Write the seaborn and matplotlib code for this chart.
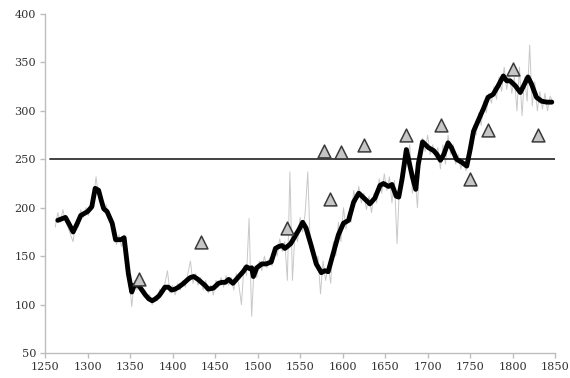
import matplotlib
matplotlib.use("Agg")
import matplotlib.pyplot as plt
import seaborn as sns
import pandas as pd

# Smoothed series (thick line)
smooth_years = [1265, 1268, 1274, 1279, 1283, 1288, 1292, 1296, 1300, 1305, 1309, 1313,
                1316, 1319, 1323, 1329, 1333, 1339, 1343, 1348, 1352, 1355, 1360, 1364,
                1368, 1372, 1376, 1380, 1384, 1388, 1391, 1395, 1399, 1403, 1407, 1413,
                1418, 1421, 1425, 1430, 1434, 1438, 1442, 1448, 1454, 1458, 1462, 1466,
                1471, 1477, 1483, 1487, 1491, 1493, 1495, 1499, 1505, 1510, 1516, 1521,
                1525, 1529, 1532, 1535, 1539, 1545, 1549, 1553, 1557, 1563, 1569, 1575,
                1579, 1583, 1589, 1595, 1601, 1607, 1613, 1619, 1625, 1632, 1638, 1644,
                1648, 1654, 1658, 1663, 1666, 1670, 1675, 1678, 1682, 1686, 1689, 1694,
                1701, 1707, 1711, 1715, 1719, 1724, 1728, 1734, 1740, 1746, 1750, 1754,
                1760, 1766, 1771, 1777, 1783, 1789, 1793, 1797, 1803, 1809, 1813, 1818,
                1822, 1828, 1834, 1840, 1846]
smooth_values = [187, 188, 190, 182, 175, 184, 192, 194, 196, 201, 220, 218,
                 208, 199, 196, 184, 167, 167, 169, 132, 113, 120, 120, 115,
                 110, 106, 104, 106, 109, 114, 118, 118, 115, 116, 118, 122,
                 126, 128, 129, 126, 123, 120, 116, 117, 122, 123, 123, 126,
                 122, 128, 134, 139, 137, 138, 129, 138, 142, 142, 144, 158,
                 160, 161, 158, 160, 163, 172, 178, 185, 179, 161, 142, 133,
                 135, 134, 153, 172, 184, 187, 206, 215, 210, 204, 210, 223,
                 225, 222, 224, 212, 211, 230, 260, 248, 232, 219, 245, 268,
                 262, 259, 255, 249, 255, 267, 262, 250, 247, 243, 260, 279,
                 291, 303, 314, 317, 326, 336, 331, 331, 326, 319, 326, 335,
                 328, 314, 310, 309, 309]

# Yearly observations (thin grey line), every third year
raw_years = list(range(1262, 1848, 3))
raw_values = [180, 195, 185, 198, 186, 180, 172, 165, 185, 180, 198, 190,
              200, 192, 205, 210, 232, 212, 215, 196, 203, 190, 188, 172,
              162, 172, 160, 172, 150, 125, 98, 125, 115, 125, 112, 115,
              105, 110, 100, 108, 104, 116, 110, 122, 135, 112, 120, 110,
              122, 115, 125, 118, 132, 145, 122, 132, 120, 128, 115, 125,
              112, 120, 110, 125, 118, 128, 118, 130, 120, 128, 115, 132,
              120, 100, 140, 130, 189, 88, 140, 128, 145, 135, 150, 138,
              148, 140, 160, 150, 168, 155, 165, 125, 237, 125, 175, 165,
              190, 175, 195, 237, 160, 155, 140, 150, 111, 145, 125, 140,
              122, 165, 150, 185, 165, 200, 178, 195, 185, 218, 205, 222,
              205, 215, 198, 212, 195, 215, 205, 230, 215, 235, 218, 232,
              205, 228, 163, 225, 240, 262, 250, 265, 215, 235, 200, 255,
              272, 258, 275, 255, 265, 252, 262, 240, 265, 245, 275, 255,
              265, 245, 255, 240, 250, 238, 250, 262, 285, 275, 298, 285,
              310, 298, 318, 308, 325, 312, 335, 320, 345, 322, 340, 318,
              335, 300, 345, 295, 335, 310, 368, 305, 330, 300, 320, 302,
              318, 300, 315, 310]

# Point estimates (triangles)
point_years = [1360, 1433, 1535, 1578, 1585, 1598, 1625, 1675, 1716, 1750, 1771, 1800, 1830]
point_values = [126, 165, 179, 259, 209, 258, 265, 275, 285, 230, 280, 343, 275]

threshold = 250

smooth = pd.DataFrame({"year": smooth_years, "value": smooth_values})
raw = pd.DataFrame({"year": raw_years, "value": raw_values})
points = pd.DataFrame({"year": point_years, "value": point_values})

sns.set_style("white")
plt.rcParams["font.family"] = ["DejaVu Serif"]

fig = plt.figure(figsize=(5.70, 3.78), dpi=100)
ax = fig.add_axes([0.079, 0.066, 0.895, 0.897])

sns.lineplot(data=raw, x="year", y="value", ax=ax, color="#c8c8c8", linewidth=0.7,
             zorder=1, estimator=None)
ax.plot([1256, 1850], [threshold, threshold], color="#333333", linewidth=1.3, zorder=2)
sns.lineplot(data=smooth, x="year", y="value", ax=ax, color="black", linewidth=3.5,
             zorder=3, estimator=None, solid_joinstyle="round", solid_capstyle="round")
sns.scatterplot(data=points, x="year", y="value", ax=ax, marker="^", s=85,
                color="#c6c6c6", edgecolor="#3a3a3a", linewidth=1.1, zorder=4)

ax.set_xlim(1250, 1850)
ax.set_ylim(50, 400)
ax.set_xticks(range(1250, 1851, 50))
ax.set_yticks(range(50, 401, 50))
ax.set_xlabel("")
ax.set_ylabel("")

for side in ("top", "right"):
    ax.spines[side].set_visible(False)
for side in ("left", "bottom"):
    ax.spines[side].set_color("#bdbdbd")
    ax.spines[side].set_linewidth(1.0)

ax.tick_params(axis="both", which="major", direction="out", length=3.5, width=1.0,
               color="#bdbdbd", labelcolor="#333333", labelsize=8.1, pad=3,
               left=True, bottom=True)

fig.savefig("out.png", dpi=100)
